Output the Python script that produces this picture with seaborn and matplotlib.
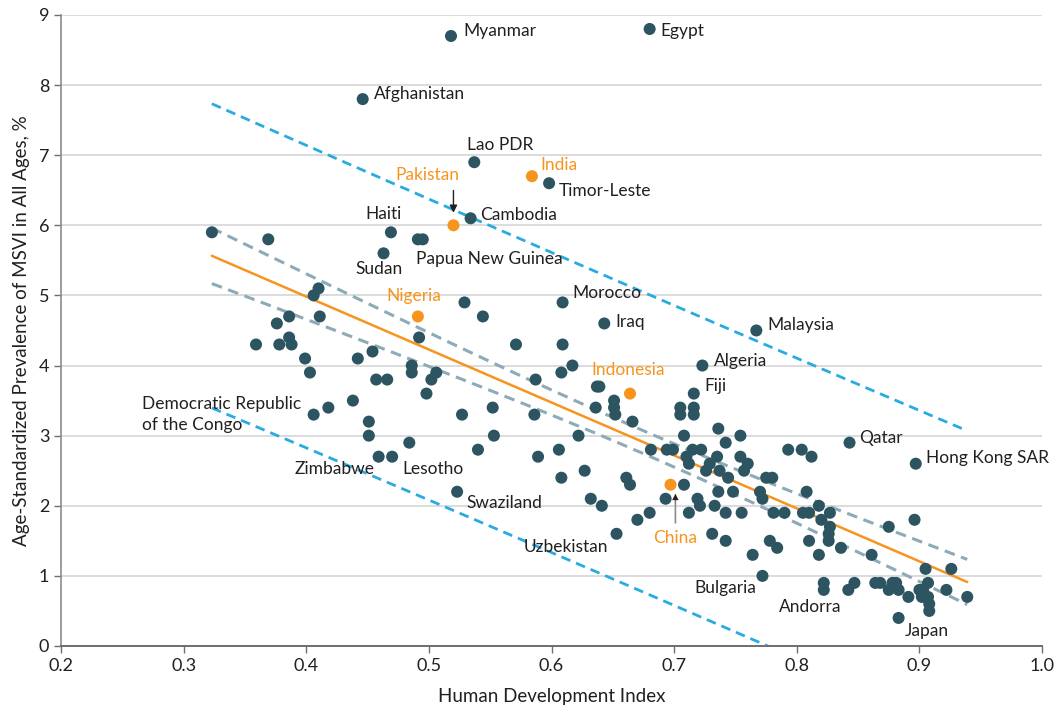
import numpy as np
import seaborn as sns
from matplotlib import pyplot as plt

# labelled countries (dark points)
label_names = ['Myanmar', 'Egypt', 'Afghanistan', 'Lao PDR', 'Timor-Leste', 'Cambodia', 'Haiti',
               'Sudan', 'Papua New Guinea', 'Morocco', 'Iraq', 'Malaysia', 'Algeria', 'Fiji',
               'Qatar', 'Hong Kong SAR', 'Democratic Republic\nof the Congo', 'Zimbabwe', 'Lesotho',
               'Swaziland', 'Uzbekistan', 'Bulgaria', 'Andorra', 'Japan']
label_hdi = [0.518, 0.680, 0.446, 0.537, 0.598, 0.534, 0.469,
             0.463, 0.491, 0.609, 0.643, 0.767, 0.723, 0.716,
             0.843, 0.897, 0.406, 0.459, 0.470,
             0.523, 0.653, 0.772, 0.822, 0.883]
label_msvi = [8.7, 8.8, 7.8, 6.9, 6.6, 6.1, 5.9,
              5.6, 5.8, 4.9, 4.6, 4.5, 4.0, 3.6,
              2.9, 2.6, 3.3, 2.7, 2.7,
              2.2, 1.6, 1.0, 0.8, 0.4]

# highlighted countries (orange)
hl_names = ['Pakistan', 'India', 'Nigeria', 'Indonesia', 'China']
hl_hdi = [0.520, 0.584, 0.491, 0.664, 0.697]
hl_msvi = [6.0, 6.7, 4.7, 3.6, 2.3]

# other countries
other_hdi = [0.323, 0.369, 0.495, 0.410, 0.406, 0.529, 0.544, 0.386, 0.411, 0.376,
             0.492, 0.386, 0.359, 0.378, 0.388, 0.399, 0.442, 0.454, 0.403, 0.486,
             0.486, 0.506, 0.502, 0.457, 0.466, 0.498, 0.438, 0.418, 0.527, 0.451,
             0.451, 0.484, 0.540, 0.571, 0.609, 0.617, 0.608, 0.587, 0.637, 0.639,
             0.651, 0.651, 0.652, 0.636, 0.552, 0.586, 0.705, 0.705, 0.716, 0.716,
             0.666, 0.553, 0.622, 0.708, 0.736, 0.754, 0.742, 0.606, 0.681, 0.694,
             0.699, 0.715, 0.722, 0.589, 0.710, 0.712, 0.729, 0.735, 0.754, 0.760,
             0.726, 0.737, 0.744, 0.757, 0.627, 0.608, 0.661, 0.664, 0.708, 0.632,
             0.641, 0.693, 0.719, 0.721, 0.736, 0.748, 0.733, 0.712, 0.742, 0.755,
             0.680, 0.670, 0.731, 0.742, 0.764, 0.793, 0.804, 0.812, 0.775, 0.780,
             0.808, 0.770, 0.772, 0.781, 0.790, 0.805, 0.810, 0.818, 0.827, 0.820,
             0.827, 0.826, 0.826, 0.810, 0.836, 0.818, 0.875, 0.896, 0.861, 0.778,
             0.784, 0.822, 0.847, 0.842, 0.864, 0.868, 0.878, 0.881, 0.875, 0.883,
             0.891, 0.905, 0.926, 0.907, 0.900, 0.903, 0.902, 0.907, 0.908, 0.908,
             0.922, 0.939]
other_msvi = [5.9, 5.8, 5.8, 5.1, 5.0, 4.9, 4.7, 4.7, 4.7, 4.6,
              4.4, 4.4, 4.3, 4.3, 4.3, 4.1, 4.1, 4.2, 3.9, 4.0,
              3.9, 3.9, 3.8, 3.8, 3.8, 3.6, 3.5, 3.4, 3.3, 3.2,
              3.0, 2.9, 2.8, 4.3, 4.3, 4.0, 3.9, 3.8, 3.7, 3.7,
              3.5, 3.4, 3.3, 3.4, 3.4, 3.3, 3.4, 3.3, 3.4, 3.3,
              3.2, 3.0, 3.0, 3.0, 3.1, 3.0, 2.9, 2.8, 2.8, 2.8,
              2.8, 2.8, 2.8, 2.7, 2.7, 2.6, 2.6, 2.7, 2.7, 2.6,
              2.5, 2.5, 2.4, 2.5, 2.5, 2.4, 2.4, 2.3, 2.3, 2.1,
              2.0, 2.1, 2.1, 2.0, 2.2, 2.2, 2.0, 1.9, 1.9, 1.9,
              1.9, 1.8, 1.6, 1.5, 1.3, 2.8, 2.8, 2.7, 2.4, 2.4,
              2.2, 2.2, 2.1, 1.9, 1.9, 1.9, 1.9, 2.0, 1.9, 1.8,
              1.7, 1.6, 1.5, 1.5, 1.4, 1.3, 1.7, 1.8, 1.3, 1.5,
              1.4, 0.9, 0.9, 0.8, 0.9, 0.9, 0.9, 0.9, 0.8, 0.8,
              0.7, 1.1, 1.1, 0.9, 0.8, 0.8, 0.7, 0.7, 0.6, 0.5,
              0.8, 0.7]

DARK = '#2c5461'
ORANGE = '#f7941d'
TEXT = '#231f20'

sns.set_theme(style='white')
plt.rcParams['font.family'] = ['Lato', 'DejaVu Sans']

fig = plt.figure(figsize=(10.56, 7.12), dpi=100)
ax = fig.add_axes([0.0578, 0.0927, 0.929, 0.8863])

# regression with confidence and prediction bands
x_all = np.array(label_hdi + hl_hdi + other_hdi)
y_all = np.array(label_msvi + hl_msvi + other_msvi)
n = len(x_all)
slope, icpt = np.polyfit(x_all, y_all, 1)
resid = y_all - (icpt + slope * x_all)
s = np.sqrt((resid ** 2).sum() / (n - 2))
sxx = ((x_all - x_all.mean()) ** 2).sum()
xs = np.linspace(x_all.min(), x_all.max(), 100)
fit = icpt + slope * xs
t = 1.97
ci = t * s * np.sqrt(1 / n + (xs - x_all.mean()) ** 2 / sxx)
pi = t * s * np.sqrt(1 + 1 / n + (xs - x_all.mean()) ** 2 / sxx)

for yy in [fit + pi, fit - pi]:
    ax.plot(xs, yy, color='#29abe2', lw=2.0, ls=(0, (3.5, 2.2)), zorder=2)
for yy in [fit + ci, fit - ci]:
    ax.plot(xs, yy, color='#8eaab7', lw=2.2, ls=(0, (3.5, 2.2)), zorder=2)
ax.plot(xs, fit, color=ORANGE, lw=1.8, zorder=2)

sns.scatterplot(x=label_hdi + other_hdi, y=label_msvi + other_msvi, color=DARK, s=75,
                edgecolor='none', ax=ax, zorder=3)
sns.scatterplot(x=hl_hdi, y=hl_msvi, color=ORANGE, s=75, edgecolor='none', ax=ax, zorder=3)

# label offsets in points: (dx, dy, ha)
offsets = {
    'Myanmar': (8.6, 3.4, 'left'), 'Egypt': (7.9, -1.2, 'left'),
    'Afghanistan': (8.4, 3.6, 'left'), 'Lao PDR': (19.0, 12.4, 'center'),
    'Timor-Leste': (7.0, -5.5, 'left'), 'Cambodia': (7.2, 2.4, 'left'),
    'Haiti': (-5.3, 13.2, 'center'), 'Sudan': (-3.1, -11.3, 'center'),
    'Papua New Guinea': (-1.7, -14.4, 'left'), 'Morocco': (7.0, 6.7, 'left'),
    'Iraq': (8.1, 0.7, 'left'), 'Malaysia': (7.9, 4.1, 'left'),
    'Algeria': (8.1, 3.1, 'left'), 'Fiji': (7.7, 5.8, 'left'),
    'Qatar': (7.2, 3.1, 'left'), 'Hong Kong SAR': (7.4, 4.3, 'left'),
    'Democratic Republic\nof the Congo': (-123.3, 0.0, 'left'),
    'Zimbabwe': (-2.7, -8.6, 'right'), 'Lesotho': (7.4, -8.6, 'left'),
    'Swaziland': (7.0, -7.9, 'left'), 'Uzbekistan': (-6.3, -9.4, 'right'),
    'Bulgaria': (-26.9, -8.6, 'center'), 'Andorra': (-9.5, -12.2, 'center'),
    'Japan': (4.5, -9.6, 'left'),
    'Pakistan': (-19.0, 36.5, 'center'), 'India': (5.8, 8.4, 'left'),
    'Nigeria': (-3.1, 14.9, 'center'), 'Indonesia': (-1.4, 17.3, 'center'),
    'China': (3.1, -38.2, 'center'),
}

for name, x, y in zip(label_names, label_hdi, label_msvi):
    dx, dy, ha = offsets[name]
    ax.annotate(name, (x, y), xytext=(dx, dy), textcoords='offset points', ha=ha,
                va='center', fontsize=12.5, color=TEXT, linespacing=1.35, zorder=4)
for name, x, y in zip(hl_names, hl_hdi, hl_msvi):
    dx, dy, ha = offsets[name]
    ax.annotate(name, (x, y), xytext=(dx, dy), textcoords='offset points', ha=ha,
                va='center', fontsize=12.5, color=ORANGE, zorder=4)

# arrows for Pakistan and China
px, py = hl_hdi[0], hl_msvi[0]
ax.annotate('', (px, py), xytext=(0, 25), textcoords='offset points',
            arrowprops=dict(arrowstyle='-|>', color=TEXT, lw=1, shrinkA=0, shrinkB=9,
                            mutation_scale=11))
cx, cy = hl_hdi[4], hl_msvi[4]
ax.annotate('', (cx + 0.004, cy), xytext=(0, -27.5), textcoords='offset points',
            arrowprops=dict(arrowstyle='-', color='#8c8c8c', lw=1.2, shrinkA=0, shrinkB=9))
ax.annotate('', (cx + 0.004, cy), xytext=(0, -14), textcoords='offset points',
            arrowprops=dict(arrowstyle='-|>', color=TEXT, lw=0.1, shrinkA=0, shrinkB=6.5,
                            mutation_scale=11))

ax.set_xlim(0.2, 1.0)
ax.set_ylim(0, 9)
ax.set_xticks(np.arange(0.2, 1.01, 0.1))
ax.set_xticklabels(['0.2', '0.3', '0.4', '0.5', '0.6', '0.7', '0.8', '0.9', '1.0'])
ax.set_yticks(range(0, 10))
ax.yaxis.grid(True, color='#dcdcdc', lw=1.4)
ax.set_axisbelow(True)
for side in ['top', 'right']:
    ax.spines[side].set_visible(False)
ax.spines['left'].set_color('#8c8c8c')
ax.spines['bottom'].set_color('#6d6e71')
ax.spines['left'].set_linewidth(1.2)
ax.spines['bottom'].set_linewidth(1.4)
ax.tick_params(axis='both', colors='#6d6e71', labelcolor=TEXT, labelsize=13,
               length=5, width=1, direction='out', left=True, bottom=True)
ax.set_xlabel('Human Development Index', fontsize=13.5, color=TEXT, labelpad=10)
ax.set_ylabel('Age-Standardized Prevalence of MSVI in All Ages, %', fontsize=13.5,
              color=TEXT, labelpad=6)

fig.savefig('out.png', dpi=100)
